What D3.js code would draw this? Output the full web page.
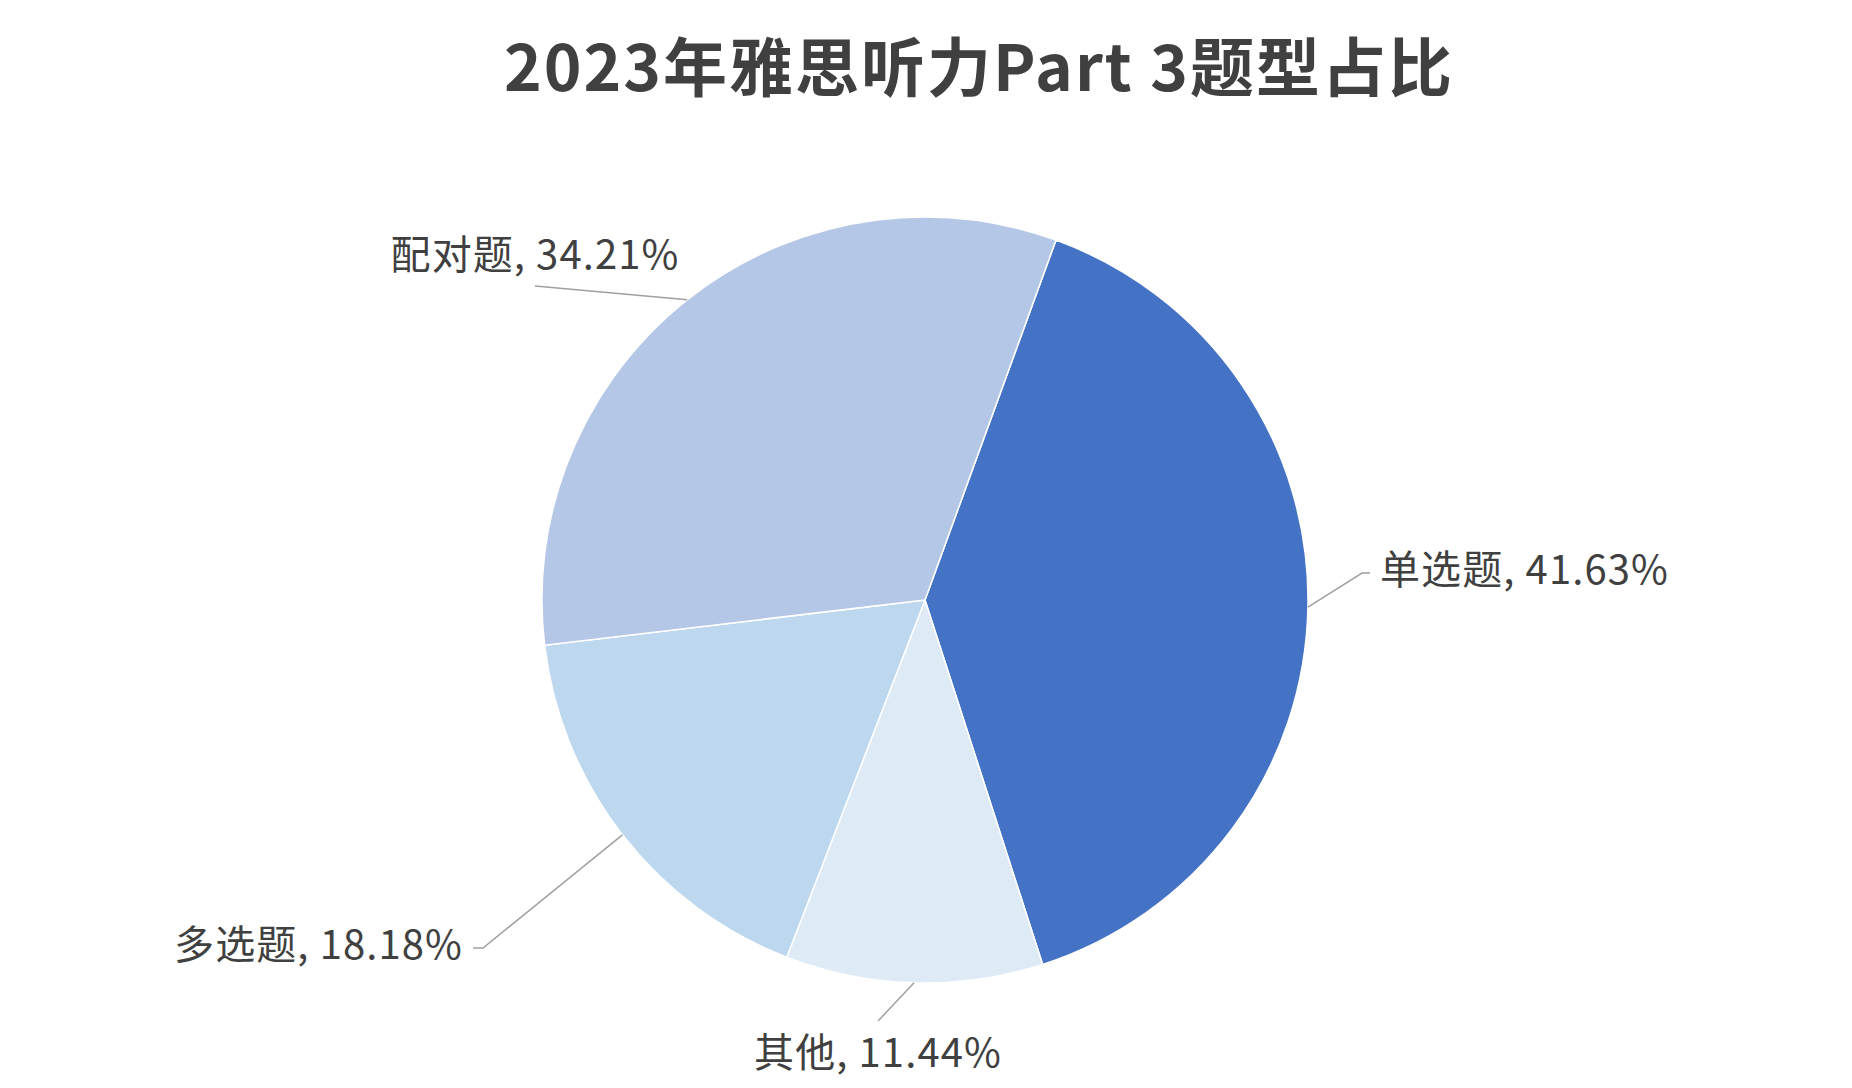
<!DOCTYPE html>
<html>
<head>
<meta charset="utf-8">
<script src="https://cdn.jsdelivr.net/npm/d3@7"></script>
<style>
  html, body { margin: 0; padding: 0; background: #ffffff; }
  svg { display: block; }
</style>
</head>
<body>
<svg id="chart" width="1852" height="1088"></svg>
<script>
// ---- data ----
const title = "2023年雅思听力Part 3题型占比";
const categories = ["单选题", "其他", "多选题", "配对题"];
const values = [41.63, 11.44, 18.18, 34.21];
const labelValues = ["41.63%", "11.44%", "18.18%", "34.21%"];
const colors = ["#4472C4", "#DEEBF7", "#BDD7EE", "#B4C7E7"];

// ---- layout ----
const W = 1852, H = 1088;
const cx = 925, cy = 600, R = 383;
const startDeg = 20;
// leader-line end relative to pie center, and where the label attaches
const labelLayout = {
  "单选题": { dx: 445, dy: -27, side: "left" },
  "其他":   { dx: -47, dy: 421, side: "top" },
  "多选题": { dx: -452, dy: 348, side: "right" },
  "配对题": { dx: -390, dy: -314, side: "bottom" }
};
const font = "'Noto Sans CJK SC', 'Noto Sans', sans-serif";
const textColor = "#404040";
const lineColor = "#A0A0A0";

const svg = d3.select("#chart");
svg.append("rect").attr("width", W).attr("height", H).attr("fill", "#fff");

svg.append("text")
  .attr("x", 979).attr("y", 91)
  .attr("text-anchor", "middle")
  .attr("font-family", font)
  .attr("font-weight", 700)
  .attr("font-size", 64)
  .attr("letter-spacing", 2)
  .attr("fill", textColor)
  .text(title);

const data = categories.map((c, i) => ({ cat: c, value: values[i], label: labelValues[i], color: colors[i] }));

const a0 = startDeg * Math.PI / 180;
const pie = d3.pie().sort(null).value(d => d.value).startAngle(a0).endAngle(a0 + 2 * Math.PI);
const arcs = pie(data);
const arc = d3.arc().innerRadius(0).outerRadius(R);
const edgeArc = d3.arc().innerRadius(R).outerRadius(R);

const g = svg.append("g").attr("transform", `translate(${cx},${cy})`);

g.selectAll("path.slice").data(arcs).enter().append("path")
  .attr("class", "slice")
  .attr("d", arc)
  .attr("fill", d => d.data.color)
  .attr("stroke", "#ffffff")
  .attr("stroke-width", 1.5);

arcs.forEach(d => {
  const [ex, ey] = edgeArc.centroid(d);
  const L = labelLayout[d.data.cat];
  const pts = [[ex, ey]];
  let tx, ty, anchor;
  if (L.side === "left") {
    pts.push([L.dx - 8, L.dy], [L.dx, L.dy]);
    tx = L.dx + 10; ty = L.dy + 11; anchor = "start";
  } else if (L.side === "right") {
    pts.push([L.dx + 10, L.dy], [L.dx, L.dy]);
    tx = L.dx - 10; ty = L.dy + 11; anchor = "end";
  } else if (L.side === "bottom") {
    pts.push([L.dx, L.dy]);
    tx = L.dx; ty = L.dy - 17; anchor = "middle";
  } else {
    pts.push([L.dx, L.dy]);
    tx = L.dx; ty = L.dy + 46; anchor = "middle";
  }
  g.append("path")
    .attr("d", d3.line()(pts))
    .attr("fill", "none")
    .attr("stroke", lineColor)
    .attr("stroke-width", 1.5);
  g.append("text")
    .attr("x", tx).attr("y", ty)
    .attr("text-anchor", anchor)
    .attr("font-family", font)
    .attr("font-size", 40)
    .attr("letter-spacing", 1.1)
    .attr("fill", textColor)
    .text(`${d.data.cat}, ${d.data.label}`);
});
</script>
</body>
</html>
